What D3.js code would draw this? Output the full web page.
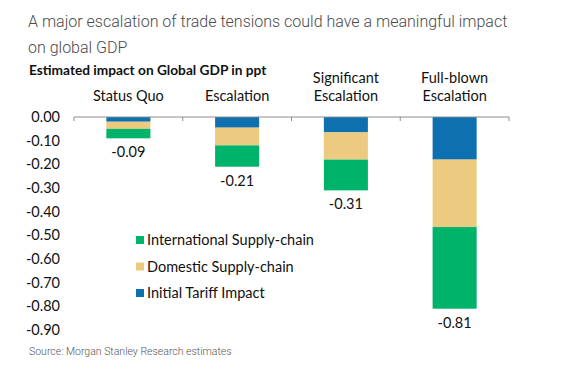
<!DOCTYPE html>
<html><head><meta charset="utf-8">
<script src="https://cdn.jsdelivr.net/npm/d3@7"></script>
<style>body{margin:0;background:#fff}svg{display:block}</style>
</head><body>
<svg id="c" width="570" height="383"></svg>
<script>
const categories = ["Status Quo", "Escalation", "Significant Escalation", "Full-blown Escalation"];
const categoryLines = [["Status Quo"], ["Escalation"], ["Significant", "Escalation"], ["Full-blown", "Escalation"]];
const initialTariff = [-0.02, -0.045, -0.065, -0.18];
const domesticSupply = [-0.03, -0.075, -0.115, -0.285];
const internationalSupply = [-0.04, -0.09, -0.13, -0.345];
const totals = [-0.09, -0.21, -0.31, -0.81];
const yTicks = [0, -0.1, -0.2, -0.3, -0.4, -0.5, -0.6, -0.7, -0.8, -0.9];
const seriesNames = ["Initial Tariff Impact", "Domestic Supply-chain", "International Supply-chain"];
const legendOrder = ["International Supply-chain", "Domestic Supply-chain", "Initial Tariff Impact"];
const colors = {"Initial Tariff Impact": "#0f70b0", "Domestic Supply-chain": "#eccb80", "International Supply-chain": "#00b36b"};

const svg = d3.select("#c");
const chartFont = "Lato, 'Open Sans', sans-serif";
const fmt = d3.formatLocale({decimal: ".", thousands: ",", grouping: [3], currency: ["", ""], minus: "-"}).format(".2f");

const x = d3.scaleBand().domain(categories).range([74, 509]);
const y = d3.scaleLinear().domain([-0.9, 0]).range([330, 117]);

// title
svg.append("text").attr("x", 28).attr("y", 26.5).attr("font-family", "Roboto, sans-serif")
  .attr("font-weight", 300).attr("font-size", 16).attr("fill", "#4a4a4a")
  .text("A major escalation of trade tensions could have a meaningful impact");
svg.append("text").attr("x", 28).attr("y", 53).attr("font-family", "Roboto, sans-serif")
  .attr("font-weight", 300).attr("font-size", 16).attr("fill", "#4a4a4a")
  .text("on global GDP");
svg.append("text").attr("x", 29).attr("y", 75).attr("font-family", chartFont)
  .attr("font-weight", 700).attr("font-size", 13.7).attr("fill", "#111")
  .text("Estimated impact on Global GDP in ppt");

// category labels
categories.forEach((c, i) => {
  const lines = categoryLines[i];
  lines.forEach((ln, j) => {
    svg.append("text").attr("x", x(c) + x.bandwidth() / 2).attr("y", 101 - (lines.length - 1 - j) * 18)
      .attr("text-anchor", "middle").attr("font-family", chartFont).attr("font-size", 14.5)
      .attr("fill", "#111").text(ln);
  });
});

// y tick labels
const yAxis = svg.append("g");
yTicks.forEach(t => {
  yAxis.append("text").attr("x", 60).attr("y", y(t) + 5).attr("text-anchor", "end")
    .attr("font-family", chartFont).attr("font-size", 14.5).attr("fill", "#111")
    .text(fmt(t));
});

// stacked bars
const table = categories.map((c, i) => ({cat: c,
  "Initial Tariff Impact": initialTariff[i],
  "Domestic Supply-chain": domesticSupply[i],
  "International Supply-chain": internationalSupply[i]}));
const stack = d3.stack().keys(seriesNames).offset(d3.stackOffsetDiverging);
const series = stack(table);
const bw = x.bandwidth() * 0.405;
svg.append("g").selectAll("g").data(series).join("g")
  .attr("fill", d => colors[d.key])
  .selectAll("rect").data(d => d).join("rect")
  .attr("x", d => x(d.data.cat) + x.bandwidth() / 2 - bw / 2)
  .attr("width", bw)
  .attr("y", d => y(d[1]))
  .attr("height", d => y(d[0]) - y(d[1]));

// axis line with ticks
const axisG = svg.append("g").attr("transform", `translate(0,${y(0)})`);
axisG.append("line").attr("x1", 74).attr("x2", 509).attr("stroke", "#8c8c8c").attr("stroke-width", 1);
const bounds = categories.map(c => x(c)).concat([x.range()[1]]);
bounds.forEach(b => axisG.append("line").attr("x1", b).attr("x2", b).attr("y1", 0).attr("y2", 4)
  .attr("stroke", "#8c8c8c").attr("stroke-width", 1));

// total labels
categories.forEach((c, i) => {
  svg.append("text").attr("x", x(c) + x.bandwidth() / 2).attr("y", y(totals[i]) + 19)
    .attr("text-anchor", "middle").attr("font-family", chartFont).attr("font-size", 14.5)
    .attr("fill", "#111").text(fmt(totals[i]));
});

// legend
legendOrder.forEach((k, i) => {
  const cy = 240 + i * 26.5;
  svg.append("rect").attr("x", 136).attr("y", cy - 4).attr("width", 8).attr("height", 8).attr("fill", colors[k]);
  svg.append("text").attr("x", 147).attr("y", cy + 5).attr("font-family", chartFont)
    .attr("font-size", 14.5).attr("fill", "#111").text(k);
});

// source
svg.append("text").attr("x", 29).attr("y", 355).attr("font-family", "Roboto, sans-serif")
  .attr("font-weight", 300).attr("font-size", 10.5).attr("fill", "#555")
  .text("Source: Morgan Stanley Research estimates");
</script>
</body></html>
